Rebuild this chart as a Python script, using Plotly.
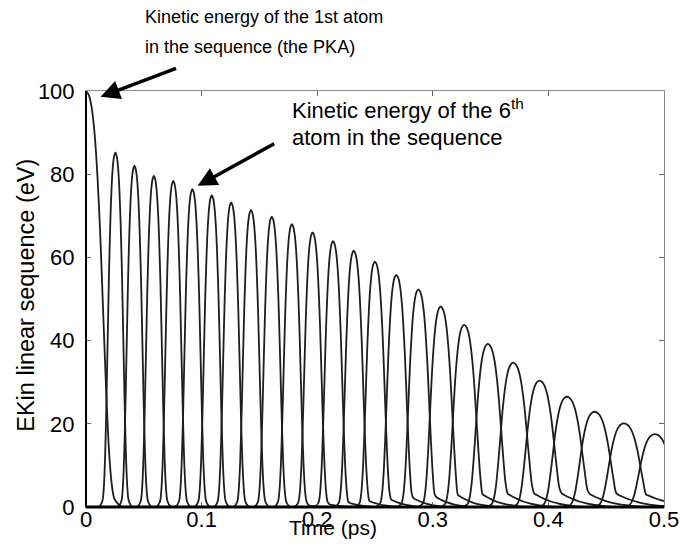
import plotly.graph_objects as go

# ---- data ----
# peak time (ps) and peak kinetic energy (eV) of each atom in the sequence
peak_time = [0.0000, 0.0254, 0.0419, 0.0587, 0.0755, 0.0920, 0.1088, 0.1256, 0.1427,
             0.1607, 0.1781, 0.1960, 0.2137, 0.2316, 0.2499, 0.2684, 0.2875, 0.3068,
             0.3271, 0.3476, 0.3695, 0.3923, 0.4160, 0.4399, 0.4652, 0.4920]
peak_energy = [100.0, 85.2, 82.0, 79.6, 78.4, 76.4, 74.9, 73.2, 71.4,
               69.8, 68.0, 66.0, 63.9, 61.6, 59.0, 55.8, 52.3, 48.2,
               43.8, 39.2, 34.7, 30.4, 26.5, 22.9, 20.1, 17.5]
# half base widths (ps) on the rising and falling side of each pulse
width_left = [0.0000, 0.0110, 0.0111, 0.0112, 0.0113, 0.0114, 0.0115, 0.0116, 0.0117,
              0.0118, 0.0119, 0.0121, 0.0123, 0.0126, 0.0130, 0.0136, 0.0143, 0.0152,
              0.0162, 0.0174, 0.0185, 0.0195, 0.0203, 0.0211, 0.0218, 0.0225]
width_right = [0.0245, 0.0114, 0.0115, 0.0116, 0.0117, 0.0118, 0.0119, 0.0121, 0.0123,
               0.0124, 0.0126, 0.0129, 0.0132, 0.0136, 0.0141, 0.0148, 0.0156, 0.0166,
               0.0178, 0.0191, 0.0204, 0.0215, 0.0224, 0.0233, 0.0241, 0.0248]
# low residual energy left behind after each pulse (eV)
tail_energy = [0.0, 0.0, 0.0, 0.0, 0.0, 0.0, 0.0, 0.0, 0.0,
               0.0, 0.5, 1.0, 1.5, 2.0, 2.5, 3.0, 3.3, 3.6,
               3.8, 4.0, 4.0, 4.0, 3.8, 3.6, 3.4, 3.2]
# normalised pulse profile read from one pulse (offset in widths -> fraction of peak)
profile_u = [0.0, 0.1, 0.2, 0.3, 0.4, 0.5, 0.6, 0.7, 0.8, 0.9, 1.0, 1.15, 1.3, 1.6, 2.0, 2.5, 3.0]
profile_f = [1.0, 0.99, 0.96, 0.90, 0.80, 0.66, 0.48, 0.30, 0.15, 0.06, 0.02, 0.006, 0.0, 0.0, 0.0, 0.0, 0.0]
profile_tail = [1.0, 1.0, 1.0, 1.0, 1.0, 1.0, 1.0, 0.95, 0.88, 0.8, 0.72, 0.6, 0.5, 0.33, 0.18, 0.07, 0.0]

x_ticks = [0, 0.1, 0.2, 0.3, 0.4, 0.5]
x_ticktext = ["0", "0.1", "0.2", "0.3", "0.4", "0.5"]
y_ticks = [0, 20, 40, 60, 80, 100]
y_ticktext = ["0", "20", "40", "60", "80", "100"]

FONT = "Liberation Sans, Arial, Helvetica, sans-serif"
fig = go.Figure()

for i, (tp, ep) in enumerate(zip(peak_time, peak_energy)):
    xs, ys = [], []
    if i > 0:
        for u, f in zip(reversed(profile_u[1:13]), reversed(profile_f[1:13])):
            xs.append(tp - u * width_left[i])
            ys.append(ep * f)
    xs.append(tp)
    ys.append(ep)
    for u, f, h in zip(profile_u[1:], profile_f[1:], profile_tail[1:]):
        xs.append(tp + u * width_right[i])
        ys.append(max(ep * f, tail_energy[i] * h))
    fig.add_trace(go.Scatter(x=xs, y=ys, mode="lines",
                             line=dict(color="#1e1e1e", width=1.8, shape="spline", smoothing=0.8),
                             hoverinfo="skip", showlegend=False))

axis_common = dict(showgrid=False, zeroline=False, showline=True, linecolor="#8a8a8a",
                   linewidth=1, mirror="ticks", ticks="inside", ticklen=5, tickcolor="#666",
                   tickfont=dict(family=FONT, size=22, color="black"))
fig.update_xaxes(range=[0, 0.5], tickvals=x_ticks, ticktext=x_ticktext,
                 ticklabelstandoff=-7, **axis_common)
fig.update_yaxes(range=[0, 100], tickvals=y_ticks, ticktext=y_ticktext,
                 ticklabelstandoff=6, **axis_common)

fig.add_shape(type="line", xref="x domain", yref="y domain", x0=0, x1=1, y0=0, y1=0,
              line=dict(color="black", width=3), layer="above")
fig.add_shape(type="line", xref="x domain", yref="y domain", x0=0, x1=0, y0=0, y1=1,
              line=dict(color="black", width=2), layer="above")

ann = []
ann.append(dict(text="Time (ps)", xref="paper", yref="paper", x=0.427, y=-0.05,
                xanchor="center", yanchor="middle", showarrow=False,
                font=dict(family=FONT, size=21, color="black")))
ann.append(dict(text="EKin linear sequence (eV)", xref="paper", yref="paper", x=-0.104, y=0.51,
                xanchor="center", yanchor="middle", textangle=-90, showarrow=False,
                font=dict(family=FONT, size=23.5, color="black")))
txt1 = dict(family=FONT, size=18, color="black")
txt2 = dict(family=FONT, size=22, color="black")
ann.append(dict(text="Kinetic energy of the 1st atom", xref="paper", yref="paper", x=0.0991, y=1.178,
                xanchor="left", yanchor="middle", showarrow=False, font=txt1))
ann.append(dict(text="in the sequence (the PKA)", xref="paper", yref="paper", x=0.0991, y=1.106,
                xanchor="left", yanchor="middle", showarrow=False, font=txt1))
ann.append(dict(text="Kinetic energy of the 6<sup>th</sup>", xref="paper", yref="paper", x=0.3533, y=0.957,
                xanchor="left", yanchor="middle", showarrow=False, font=txt2))
ann.append(dict(text="atom in the sequence", xref="paper", yref="paper", x=0.3533, y=0.889,
                xanchor="left", yanchor="middle", showarrow=False, font=txt2))
ann.append(dict(text="", x=0.0126, y=98.6, xref="x", yref="y", ax=77, ay=-29,
                axref="pixel", ayref="pixel", showarrow=True, arrowhead=2, arrowsize=1.1,
                arrowwidth=3.5, arrowcolor="black", standoff=0))
ann.append(dict(text="", x=0.0966, y=77.2, xref="x", yref="y", ax=78, ay=-43,
                axref="pixel", ayref="pixel", showarrow=True, arrowhead=2, arrowsize=1.1,
                arrowwidth=3.5, arrowcolor="black", standoff=0))

fig.update_layout(width=691, height=557, margin=dict(l=86, r=20, t=91, b=50),
                  plot_bgcolor="white", paper_bgcolor="white", showlegend=False,
                  annotations=ann, font=dict(family=FONT, color="black"))

fig.write_html("out.html")
